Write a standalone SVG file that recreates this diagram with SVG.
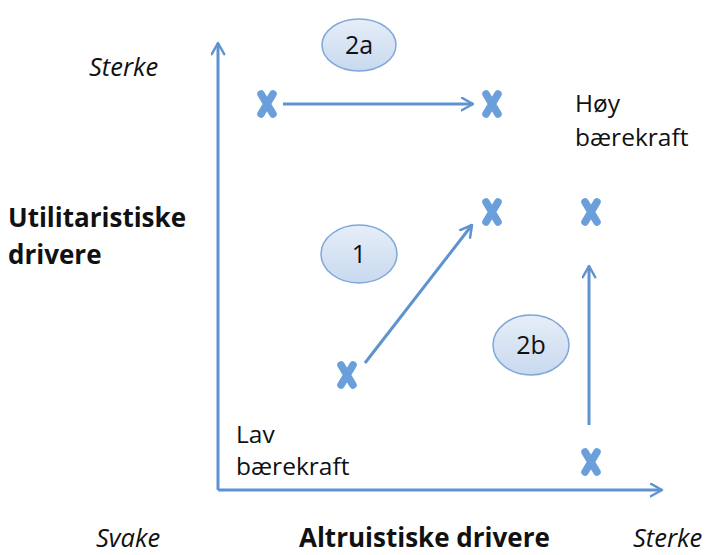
<svg xmlns="http://www.w3.org/2000/svg" width="709" height="555" viewBox="0 0 709 555">
  <style>
    .axis { stroke: #5f93cf; stroke-width: 3; fill: none; }
    .conn { stroke: #5f93cf; stroke-width: 3; fill: none; }
    .bubble { fill: url(#bubbleFill); stroke: #7ea7d8; stroke-width: 1.5; }
    .num { font-family: "Open Sans", Lato, sans-serif; font-size: 25px; fill: #111; text-anchor: middle; }
    .lbl { font-family: "Open Sans", Lato, sans-serif; font-size: 24.5px; fill: #111; }
    .ital { font-family: "Open Sans", Lato, sans-serif; font-size: 25.5px; font-style: italic; fill: #111; }
    .bold { font-family: "Open Sans", Lato, sans-serif; font-size: 26px; font-weight: bold; fill: #111; }
    .mark { stroke: #6a9fdc; stroke-width: 7.5; stroke-linecap: round; fill: none; }
  </style>
  <defs>
    <linearGradient id="bubbleFill" x1="0" y1="0" x2="0" y2="1">
      <stop offset="0" stop-color="#e6eef8"/>
      <stop offset="1" stop-color="#c8d9ef"/>
    </linearGradient>
    <marker id="head" viewBox="0 0 12 12" refX="10" refY="6" markerWidth="5" markerHeight="5" markerUnits="strokeWidth" orient="auto">
      <path d="M1,1 L10,6 L1,11" fill="none" stroke="#5f93cf" stroke-width="2" stroke-linecap="round" stroke-linejoin="round"/>
    </marker>
    <g id="x">
      <path class="mark" d="M-6,-10 L6,10 M6,-10 L-6,10"/>
    </g>
  </defs>

  <!-- axes -->
  <g id="axes">
    <path class="axis" d="M218,490 L218,43" marker-end="url(#head)"/>
    <path class="axis" d="M218,490 L662,490" marker-end="url(#head)"/>
  </g>

  <!-- movement arrows -->
  <g id="connectors">
    <path class="conn" d="M283,104 L473,104" marker-end="url(#head)"/>
    <path class="conn" d="M365,363 L472,225" marker-end="url(#head)"/>
    <path class="conn" d="M589,425 L589,266" marker-end="url(#head)"/>
  </g>

  <!-- position markers -->
  <g id="m1"><use href="#x" x="267" y="104"/></g>
  <g id="m2"><use href="#x" x="492" y="104"/></g>
  <g id="m3"><use href="#x" x="492" y="212"/></g>
  <g id="m4"><use href="#x" x="591" y="212"/></g>
  <g id="m5"><use href="#x" x="347" y="375"/></g>
  <g id="m6"><use href="#x" x="591" y="462"/></g>

  <!-- step bubbles -->
  <g id="b2a">
    <ellipse class="bubble" cx="359" cy="45" rx="37" ry="26"/>
    <text class="num" x="359" y="54">2a</text>
  </g>
  <g id="b1">
    <ellipse class="bubble" cx="359" cy="254" rx="38" ry="29"/>
    <text class="num" x="359" y="263">1</text>
  </g>
  <g id="b2b">
    <ellipse class="bubble" cx="531" cy="345" rx="38" ry="30"/>
    <text class="num" x="531" y="354">2b</text>
  </g>

  <!-- labels -->
  <g id="labels">
    <text class="ital" x="89" y="76">Sterke</text>
    <text class="bold" x="8" y="227">Utilitaristiske</text>
    <text class="bold" x="8" y="264">drivere</text>
    <text class="lbl" x="575" y="112">Høy</text>
    <text class="lbl" x="575" y="146">bærekraft</text>
    <text class="lbl" x="236" y="443">Lav</text>
    <text class="lbl" x="236" y="475">bærekraft</text>
    <text class="ital" x="96" y="547">Svake</text>
    <text class="bold" x="299" y="547">Altruistiske drivere</text>
    <text class="ital" x="633" y="547">Sterke</text>
  </g>
</svg>
